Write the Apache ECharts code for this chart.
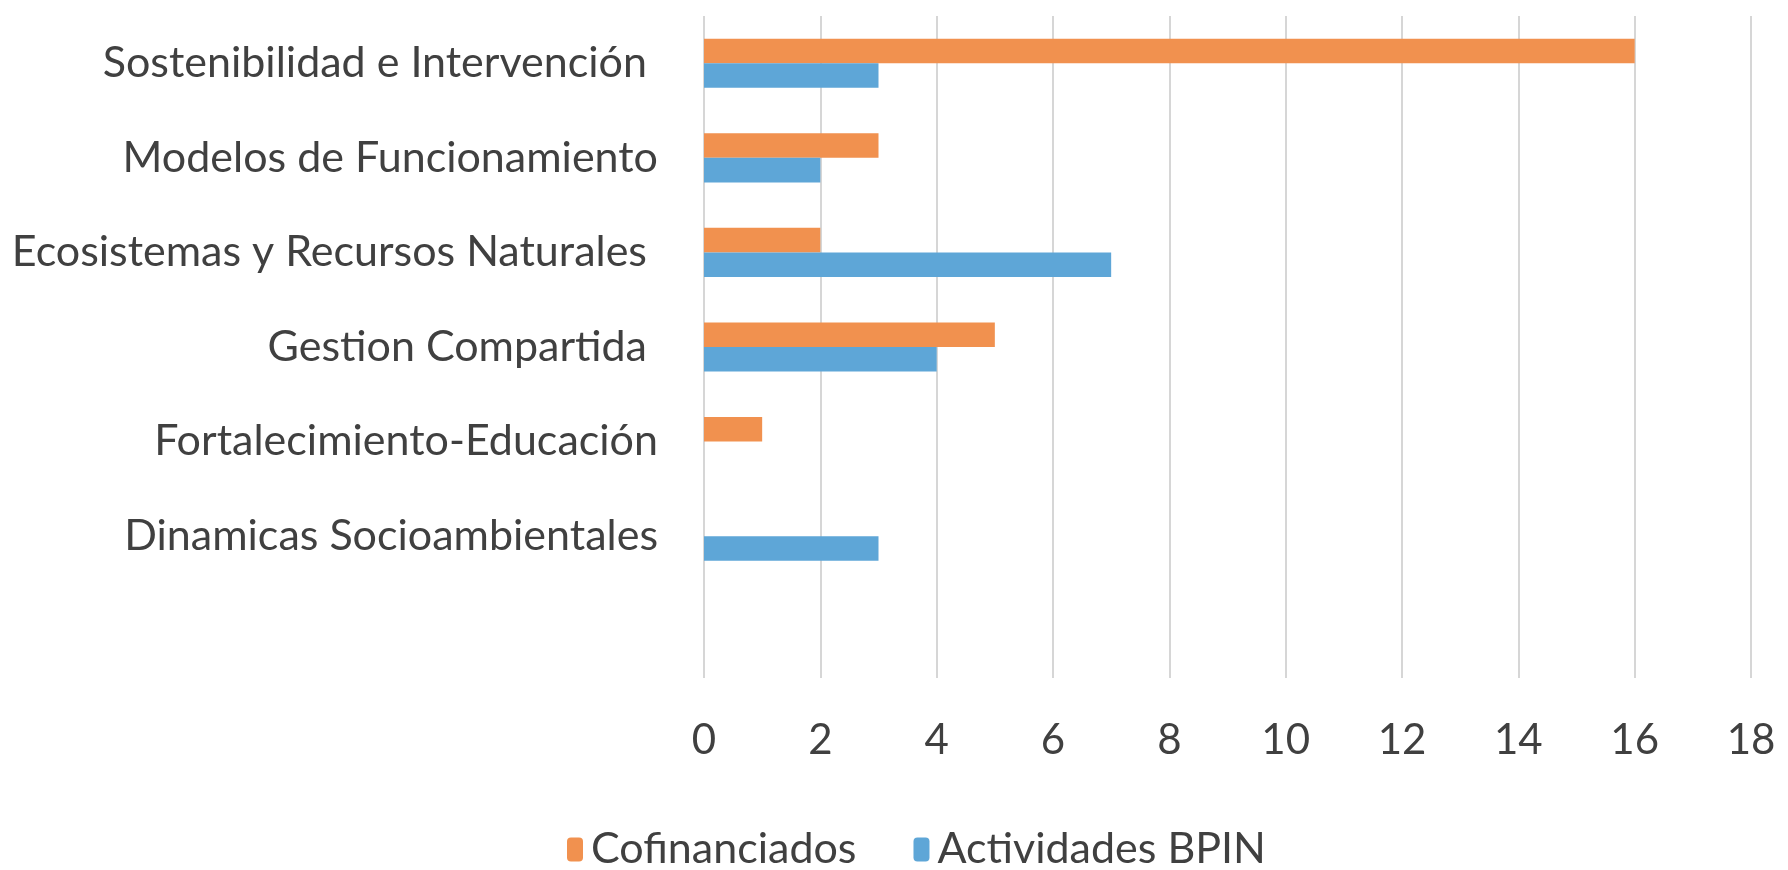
<!DOCTYPE html>
<html>
<head>
<meta charset="utf-8">
<script src="https://cdn.jsdelivr.net/npm/echarts@6/dist/echarts.min.js"></script>
<style>
  html, body { margin: 0; padding: 0; background: #fff; }
  #chart { width: 1788px; height: 870px; }
</style>
</head>
<body>
<div id="chart"></div>
<script>
// categories top to bottom (trailing spaces kept as in the original labels)
const categories = [
  'Sostenibilidad e Intervención ',
  'Modelos de Funcionamiento',
  'Ecosistemas y Recursos Naturales ',
  'Gestion Compartida ',
  'Fortalecimiento-Educación',
  'Dinamicas Socioambientales',
  ''
]
const cofinanciados = [16, 3, 2, 5, 1, null, null]
const actividadesBPIN = [3, 2, 7, 4, null, 3, null]
const xTicks = [0, 2, 4, 6, 8, 10, 12, 14, 16, 18]

const FONT = 'Lato'
const TEXT = '#404040'

let myChart = echarts.init(document.getElementById('chart'))
myChart.setOption({
  animation: false,
  textStyle: { fontFamily: FONT },
  grid: { left: 704, right: 37, top: 16, bottom: 192 },
  legend: {
    left: 562,
    top: 823,
    itemWidth: 16,
    itemHeight: 24,
    itemGap: 57,
    textStyle: { fontFamily: FONT, fontSize: 43, color: TEXT, padding: [0, 0, 0, 3] },
    data: ['Cofinanciados', 'Actividades BPIN']
  },
  xAxis: {
    type: 'value',
    min: xTicks[0],
    max: xTicks[xTicks.length - 1],
    interval: 2,
    axisLine: { show: false },
    axisTick: { show: false },
    splitLine: { lineStyle: { color: '#d6d6d6', width: 2 } },
    axisLabel: { fontFamily: FONT, fontSize: 42, color: TEXT, margin: 41 }
  },
  yAxis: {
    type: 'category',
    inverse: true,
    data: categories,
    axisLine: { show: false },
    axisTick: { show: false },
    axisLabel: { fontFamily: FONT, fontSize: 43, color: TEXT, margin: 46 }
  },
  series: [
    {
      name: 'Cofinanciados',
      type: 'bar',
      data: cofinanciados,
      barGap: '0%',
      barCategoryGap: '48%',
      itemStyle: { color: '#F1914F' }
    },
    {
      name: 'Actividades BPIN',
      type: 'bar',
      data: actividadesBPIN,
      barGap: '0%',
      barCategoryGap: '48%',
      itemStyle: { color: '#5EA6D7' }
    }
  ]
})
</script>
</body>
</html>
